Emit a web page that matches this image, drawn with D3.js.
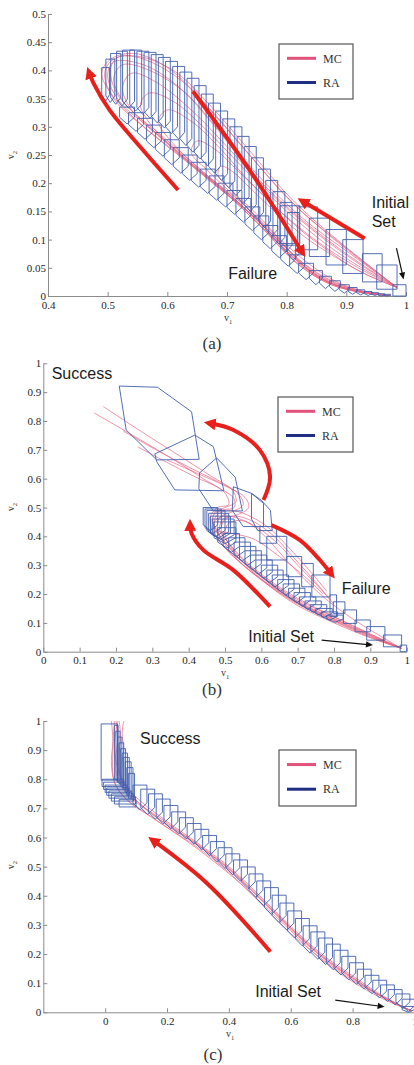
<!DOCTYPE html>
<html>
<head>
<meta charset="utf-8">
<script src="https://cdn.jsdelivr.net/npm/d3@7"></script>
<style>
  body { margin: 0; background: #fff; }
  svg { display: block; }
  .axis text { font-family: "Liberation Serif", "Times New Roman", serif; font-size: 11px; fill: #262626; }
  .axis .domain, .axis line { stroke: #8c8c8c; }
  .note { font-family: "Liberation Sans", Arial, sans-serif; font-size: 16px; fill: #1b1b1b; }
  .serif { font-family: "Liberation Serif", "Times New Roman", serif; fill: #333; }
</style>
</head>
<body>
<svg id="fig" width="414" height="1065"></svg>
<script>
// ---------- panel (a) ----------
const aTicksX = [0.4, 0.5, 0.6, 0.7, 0.8, 0.9, 1];
const aTicksY = [0, 0.05, 0.1, 0.15, 0.2, 0.25, 0.3, 0.35, 0.4, 0.45, 0.5];

// reach sets as [v1 left, v1 right, v2 bottom, v2 top]
const aSetsUpper = [
  [0.490,0.503,0.345,0.405],[0.497,0.512,0.343,0.420],[0.505,0.522,0.340,0.430],[0.515,0.533,0.337,0.434],
  [0.525,0.545,0.333,0.436],[0.537,0.557,0.328,0.436],[0.549,0.569,0.322,0.434],[0.561,0.581,0.315,0.432],
  [0.573,0.593,0.307,0.428],[0.585,0.605,0.298,0.423],[0.597,0.617,0.288,0.416],[0.609,0.629,0.278,0.407],
  [0.621,0.641,0.267,0.397],[0.633,0.653,0.255,0.386],[0.645,0.665,0.243,0.373],[0.657,0.677,0.231,0.358],
  [0.669,0.689,0.218,0.342],[0.681,0.701,0.205,0.328],[0.693,0.713,0.192,0.314],[0.705,0.725,0.178,0.300],
  [0.717,0.737,0.164,0.283],[0.729,0.749,0.150,0.265],[0.741,0.761,0.136,0.245],[0.753,0.773,0.121,0.225],
  [0.765,0.785,0.106,0.205],[0.777,0.797,0.092,0.185],[0.789,0.809,0.078,0.166],[0.801,0.821,0.064,0.148]
];
const aSetsLower = [
  [0.520,0.545,0.305,0.335],[0.535,0.560,0.292,0.325],[0.550,0.575,0.278,0.315],[0.565,0.590,0.263,0.303],
  [0.580,0.605,0.248,0.290],[0.595,0.620,0.233,0.277],[0.610,0.635,0.218,0.263],[0.625,0.650,0.205,0.250],
  [0.640,0.665,0.193,0.237],[0.655,0.680,0.182,0.225],[0.670,0.695,0.170,0.213],[0.685,0.710,0.158,0.200],
  [0.700,0.725,0.145,0.187],[0.715,0.740,0.131,0.173],[0.730,0.755,0.116,0.158],[0.745,0.770,0.100,0.142],
  [0.760,0.785,0.084,0.125],[0.775,0.800,0.068,0.107],[0.790,0.815,0.053,0.090],[0.805,0.830,0.040,0.073],
  [0.820,0.845,0.029,0.058],[0.838,0.860,0.020,0.045],[0.855,0.875,0.013,0.035],[0.872,0.890,0.008,0.027],
  [0.888,0.905,0.005,0.020],[0.903,0.918,0.003,0.015],[0.917,0.931,0.002,0.011],[0.930,0.943,0.001,0.008],
  [0.942,0.954,0.001,0.006],[0.953,0.964,0.000,0.004],[0.963,0.974,0.000,0.003]
];
const aSetsStairs = [
  [0.978,1.000,0.000,0.020],[0.951,0.985,0.012,0.055],[0.927,0.960,0.025,0.075],[0.894,0.928,0.040,0.100],
  [0.866,0.900,0.055,0.118],[0.838,0.872,0.070,0.138],[0.818,0.852,0.082,0.158],[0.789,0.822,0.093,0.160]
];
const aMC = [
  [[0.985,0.015],[0.90,0.075],[0.82,0.14],[0.75,0.21],[0.68,0.30],[0.62,0.37],[0.56,0.41],[0.51,0.415],[0.50,0.39],[0.52,0.345],[0.58,0.29],[0.65,0.225],[0.72,0.165],[0.78,0.105],[0.84,0.045],[0.90,0.014],[0.96,0.002]],
  [[0.985,0.015],[0.90,0.085],[0.82,0.155],[0.75,0.235],[0.68,0.32],[0.62,0.385],[0.56,0.42],[0.52,0.425],[0.505,0.405],[0.515,0.36],[0.57,0.30],[0.64,0.235],[0.71,0.175],[0.77,0.115],[0.83,0.05],[0.89,0.016],[0.95,0.003]],
  [[0.985,0.015],[0.91,0.065],[0.84,0.12],[0.77,0.185],[0.70,0.265],[0.64,0.33],[0.58,0.38],[0.54,0.395],[0.525,0.37],[0.54,0.33],[0.60,0.27],[0.67,0.205],[0.74,0.145],[0.80,0.085],[0.85,0.035],[0.91,0.01],[0.965,0.001]],
  [[0.985,0.015],[0.91,0.06],[0.85,0.105],[0.78,0.17],[0.72,0.235],[0.66,0.30],[0.61,0.345],[0.57,0.36],[0.555,0.34],[0.575,0.30],[0.63,0.245],[0.69,0.19],[0.75,0.135],[0.80,0.08],[0.86,0.03],[0.92,0.008],[0.97,0.001]],
  [[0.985,0.015],[0.92,0.05],[0.86,0.09],[0.80,0.14],[0.74,0.20],[0.69,0.26],[0.64,0.31],[0.60,0.33],[0.585,0.31],[0.61,0.27],[0.66,0.22],[0.72,0.165],[0.77,0.11],[0.82,0.06],[0.87,0.025],[0.93,0.006],[0.975,0.001]],
  [[0.985,0.015],[0.89,0.095],[0.81,0.17],[0.74,0.255],[0.67,0.34],[0.61,0.40],[0.55,0.425],[0.51,0.42],[0.495,0.395],[0.51,0.35],[0.56,0.30],[0.63,0.24],[0.70,0.18],[0.76,0.12],[0.82,0.055],[0.88,0.018],[0.94,0.004]],
  [[0.985,0.015],[0.92,0.045],[0.87,0.08],[0.82,0.12],[0.77,0.17],[0.72,0.22],[0.68,0.26],[0.65,0.275],[0.64,0.255],[0.67,0.22],[0.72,0.17],[0.77,0.12],[0.82,0.065],[0.87,0.03],[0.92,0.01],[0.97,0.001]],
  [[0.985,0.015],[0.90,0.08],[0.83,0.135],[0.76,0.205],[0.69,0.29],[0.63,0.36],[0.57,0.40],[0.525,0.41],[0.51,0.385],[0.53,0.34],[0.59,0.285],[0.66,0.22],[0.73,0.16],[0.79,0.095],[0.85,0.04],[0.91,0.012],[0.965,0.002]],
  [[0.985,0.015],[0.88,0.10],[0.80,0.175],[0.73,0.26],[0.66,0.345],[0.60,0.405],[0.545,0.43],[0.505,0.42],[0.49,0.395],[0.505,0.36],[0.55,0.31],[0.62,0.25],[0.69,0.19],[0.75,0.13],[0.81,0.065],[0.87,0.022],[0.93,0.005]],
  [[0.985,0.015],[0.93,0.04],[0.88,0.07],[0.83,0.105],[0.78,0.15],[0.74,0.19],[0.71,0.22],[0.69,0.23],[0.685,0.215],[0.71,0.185],[0.75,0.145],[0.79,0.10],[0.84,0.055],[0.89,0.022],[0.94,0.006],[0.975,0.001]]
];
const aArrows = [
  [[0.618,0.188],[0.554,0.265],[0.503,0.33],[0.476,0.378],[0.469,0.396]],
  [[0.643,0.363],[0.738,0.223],[0.826,0.078]],
  [[0.931,0.102],[0.827,0.168]]
];
const aPointer = [[0.984,0.085],[0.995,0.034]];
const aLabels = [["Failure",0.702,0.031],["Initial",0.9425,0.156],["Set",0.9425,0.123]];

// ---------- panel (b) ----------
const bTicksX = [0, 0.1, 0.2, 0.3, 0.4, 0.5, 0.6, 0.7, 0.8, 0.9, 1];
const bTicksY = [0, 0.1, 0.2, 0.3, 0.4, 0.5, 0.6, 0.7, 0.8, 0.9, 1];
const bHexes = [
  [[0.209,0.921],[0.314,0.917],[0.408,0.832],[0.429,0.667],[0.312,0.665],[0.228,0.769]],
  [[0.307,0.686],[0.417,0.751],[0.468,0.711],[0.497,0.558],[0.362,0.561],[0.312,0.659]],
  [[0.430,0.620],[0.477,0.672],[0.528,0.605],[0.548,0.488],[0.468,0.488],[0.428,0.565]],
  [[0.523,0.572],[0.573,0.549],[0.606,0.514],[0.606,0.434],[0.550,0.434],[0.520,0.490]],
  [[0.573,0.549],[0.600,0.525],[0.625,0.490],[0.630,0.420],[0.590,0.420],[0.573,0.460]]
];
const bSetsStairs = [
  [0.982,1.000,0.000,0.023],[0.936,0.986,0.017,0.058],[0.890,0.940,0.040,0.087],[0.858,0.900,0.069,0.110],
  [0.826,0.862,0.098,0.145],[0.798,0.830,0.133,0.173],[0.789,0.807,0.122,0.197],[0.739,0.789,0.190,0.266],
  [0.711,0.743,0.225,0.306],[0.670,0.711,0.260,0.330],[0.615,0.670,0.318,0.400],[0.596,0.642,0.376,0.434]
];
const bSetsLower = [
  [0.440,0.480,0.420,0.500],[0.445,0.490,0.410,0.495],[0.450,0.500,0.400,0.490],[0.455,0.510,0.395,0.480],
  [0.460,0.515,0.390,0.470],[0.465,0.525,0.385,0.460],[0.470,0.530,0.375,0.450],[0.480,0.530,0.360,0.430],
  [0.495,0.540,0.345,0.410],[0.510,0.555,0.330,0.395],[0.525,0.570,0.315,0.380],[0.540,0.585,0.300,0.365],
  [0.555,0.600,0.285,0.350],[0.570,0.615,0.270,0.335],[0.585,0.630,0.255,0.318],[0.600,0.645,0.240,0.300],
  [0.615,0.660,0.225,0.283],[0.630,0.675,0.210,0.266],[0.645,0.690,0.196,0.250],[0.660,0.705,0.183,0.235],
  [0.675,0.720,0.170,0.220],[0.690,0.735,0.158,0.205],[0.705,0.750,0.147,0.190],[0.720,0.765,0.137,0.176],
  [0.735,0.780,0.128,0.163],[0.750,0.795,0.119,0.150],[0.765,0.810,0.110,0.138],[0.780,0.825,0.102,0.127]
];
const bMC = [
  [[0.985,0.012],[0.90,0.055],[0.80,0.11],[0.70,0.17],[0.62,0.235],[0.55,0.30],[0.50,0.36],[0.465,0.42],[0.46,0.47],[0.48,0.50],[0.51,0.51],[0.50,0.55],[0.44,0.60],[0.36,0.665],[0.26,0.74],[0.14,0.828]],
  [[0.985,0.012],[0.90,0.06],[0.80,0.12],[0.70,0.18],[0.62,0.245],[0.55,0.31],[0.505,0.37],[0.47,0.43],[0.47,0.48],[0.50,0.50],[0.53,0.52],[0.52,0.56],[0.46,0.61],[0.38,0.675],[0.28,0.755],[0.165,0.85]],
  [[0.985,0.012],[0.90,0.05],[0.80,0.105],[0.70,0.165],[0.62,0.23],[0.555,0.295],[0.51,0.355],[0.48,0.42],[0.485,0.465],[0.52,0.485],[0.55,0.51],[0.535,0.55],[0.48,0.59],[0.40,0.64],[0.31,0.70],[0.22,0.765]],
  [[0.985,0.012],[0.90,0.058],[0.80,0.115],[0.70,0.175],[0.63,0.235],[0.565,0.30],[0.52,0.36],[0.49,0.42],[0.50,0.46],[0.535,0.475],[0.565,0.50],[0.555,0.535],[0.50,0.575],[0.43,0.615],[0.34,0.665]],
  [[0.985,0.012],[0.90,0.052],[0.80,0.108],[0.70,0.168],[0.62,0.232],[0.55,0.30],[0.50,0.36],[0.47,0.42],[0.475,0.47],[0.51,0.49],[0.56,0.475],[0.62,0.43],[0.68,0.355],[0.73,0.285],[0.78,0.21]],
  [[0.985,0.012],[0.90,0.062],[0.80,0.122],[0.70,0.185],[0.62,0.25],[0.56,0.31],[0.515,0.37],[0.485,0.425],[0.495,0.46],[0.53,0.47],[0.58,0.45],[0.635,0.40],[0.69,0.325],[0.74,0.255],[0.79,0.18]],
  [[0.985,0.012],[0.90,0.048],[0.80,0.10],[0.70,0.16],[0.63,0.22],[0.57,0.285],[0.525,0.345],[0.50,0.41],[0.51,0.445],[0.545,0.455],[0.59,0.43],[0.645,0.375],[0.70,0.30],[0.75,0.235],[0.80,0.165]],
  [[0.985,0.012],[0.92,0.06],[0.85,0.115],[0.78,0.18],[0.72,0.25],[0.66,0.33],[0.61,0.40],[0.56,0.45],[0.50,0.47],[0.47,0.45],[0.48,0.42],[0.52,0.41],[0.58,0.39],[0.65,0.33],[0.72,0.26],[0.77,0.20]],
  [[0.985,0.012],[0.90,0.056],[0.80,0.113],[0.70,0.172],[0.62,0.24],[0.555,0.305],[0.51,0.365],[0.475,0.425],[0.465,0.465],[0.49,0.49],[0.525,0.50],[0.525,0.53],[0.48,0.57],[0.42,0.605],[0.35,0.65],[0.26,0.71]]
];
const bArrows = [
  [[0.606,0.526],[0.624,0.607],[0.596,0.699],[0.523,0.769],[0.458,0.792]],
  [[0.628,0.439],[0.706,0.387],[0.761,0.318],[0.792,0.27]],
  [[0.624,0.156],[0.523,0.283],[0.44,0.353],[0.408,0.41],[0.404,0.44]]
];
const bPointer = [[0.766,0.04],[0.9,0.024]];
const bLabels = [["Success",0.023,0.944],["Failure",0.821,0.2],["Initial Set",0.564,0.035]];

// ---------- panel (c) ----------
const cTicksX = [0, 0.2, 0.4, 0.6, 0.8, 1];
const cTicksY = [0, 0.1, 0.2, 0.3, 0.4, 0.5, 0.6, 0.7, 0.8, 0.9, 1];
const cSetsTop = [[-0.013,0.040,0.797,0.990]];
const cSetsSlant = [
  [0.030,0.042,0.800,0.985],[0.035,0.048,0.795,0.965],[0.040,0.054,0.790,0.945],[0.045,0.060,0.785,0.925],
  [0.050,0.066,0.780,0.905],[0.055,0.072,0.772,0.890],[0.060,0.078,0.765,0.875],[0.065,0.084,0.755,0.860],
  [0.070,0.090,0.745,0.840],[0.075,0.095,0.735,0.820]
];
const cSetsFlat = [
  [-0.010,0.060,0.775,0.800],[-0.005,0.065,0.765,0.790],[0.000,0.072,0.755,0.780],[0.005,0.078,0.745,0.770],
  [0.012,0.085,0.735,0.760],[0.020,0.092,0.725,0.750],[0.030,0.098,0.715,0.740],[0.045,0.100,0.705,0.730]
];
const cSetsBand = [
  [0.090,0.135,0.695,0.780],[0.115,0.160,0.679,0.766],[0.140,0.185,0.663,0.750],[0.165,0.210,0.647,0.732],
  [0.190,0.235,0.630,0.710],[0.215,0.260,0.612,0.688],[0.240,0.285,0.595,0.668],[0.265,0.310,0.577,0.648],
  [0.290,0.335,0.558,0.628],[0.315,0.360,0.538,0.607],[0.340,0.385,0.516,0.586],[0.365,0.410,0.494,0.565],
  [0.390,0.435,0.472,0.544],[0.415,0.460,0.450,0.523],[0.440,0.485,0.424,0.499],[0.465,0.510,0.395,0.475],
  [0.490,0.535,0.366,0.451],[0.515,0.560,0.336,0.428],[0.540,0.585,0.308,0.402],[0.565,0.610,0.282,0.375],
  [0.590,0.635,0.255,0.348],[0.615,0.660,0.228,0.322],[0.640,0.685,0.203,0.297],[0.665,0.710,0.182,0.276],
  [0.690,0.735,0.164,0.255],[0.715,0.760,0.146,0.234],[0.740,0.785,0.128,0.213],[0.765,0.810,0.111,0.192],
  [0.790,0.835,0.096,0.170],[0.815,0.860,0.080,0.148],[0.840,0.885,0.064,0.127],[0.865,0.910,0.049,0.110],
  [0.890,0.935,0.037,0.094],[0.915,0.960,0.025,0.078],[0.940,0.985,0.013,0.063],[0.960,1.000,0.003,0.045],
  [0.960,1.000,0.000,0.020]
];
const cMC = [
  [[0.99,0.005],[0.90,0.05],[0.80,0.115],[0.70,0.19],[0.60,0.285],[0.50,0.39],[0.40,0.49],[0.30,0.575],[0.20,0.645],[0.12,0.705],[0.07,0.75],[0.04,0.80],[0.035,0.87],[0.04,0.94],[0.035,1.0]],
  [[0.99,0.005],[0.90,0.055],[0.80,0.125],[0.70,0.20],[0.60,0.295],[0.50,0.40],[0.40,0.50],[0.30,0.58],[0.20,0.655],[0.12,0.72],[0.08,0.76],[0.05,0.81],[0.045,0.88],[0.05,0.95],[0.045,1.0]],
  [[0.99,0.005],[0.90,0.045],[0.80,0.105],[0.70,0.18],[0.60,0.28],[0.50,0.38],[0.40,0.48],[0.30,0.565],[0.20,0.635],[0.11,0.70],[0.06,0.74],[0.03,0.79],[0.02,0.86],[0.025,0.93],[0.02,1.0]],
  [[0.99,0.005],[0.80,0.11],[0.60,0.27],[0.45,0.43],[0.30,0.56],[0.15,0.67],[0.08,0.72],[0.03,0.79],[0.025,0.9],[0.03,1.0]],
  [[0.99,0.005],[0.90,0.05],[0.80,0.12],[0.70,0.195],[0.60,0.29],[0.50,0.395],[0.40,0.495],[0.30,0.575],[0.20,0.65],[0.10,0.725],[0.06,0.77],[0.05,0.83],[0.06,0.90],[0.055,0.96],[0.06,1.0]],
  [[0.99,0.005],[0.90,0.052],[0.80,0.118],[0.70,0.192],[0.60,0.288],[0.50,0.392],[0.40,0.492],[0.30,0.572],[0.20,0.642],[0.13,0.70],[0.09,0.74],[0.06,0.785],[0.04,0.84],[0.03,0.92],[0.04,1.0]]
];
const cArrows = [[[0.534,0.208],[0.329,0.443],[0.155,0.59]]];
const cPointer = [[0.744,0.042],[0.895,0.02]];
const cLabels = [["Success",0.113,0.921],["Initial Set",0.485,0.054]];

// ---------- layout ----------
const panels = [
  { left: 48, right: 406, top: 14, bottom: 296, xDom: [0.4, 1], yDom: [0, 0.5],
    xTicks: aTicksX, yTicks: aTicksY,
    sets: [[aSetsUpper, 0.012], [aSetsLower, 0.012], [aSetsStairs, 0]], hexes: [],
    mc: aMC, arrows: aArrows, pointer: aPointer, labels: aLabels,
    legend: { x: 279, y: 44, w: 74, h: 55 }, caption: ["(a)", 212, 349],
    xLab: [228, 321], yLab: [14, 155] },
  { left: 43.3, right: 406.7, top: 363.3, bottom: 651.7, xDom: [0, 1], yDom: [0, 1],
    xTicks: bTicksX, yTicks: bTicksY,
    sets: [[bSetsStairs, 0], [bSetsLower, 0.02]], hexes: bHexes,
    mc: bMC, arrows: bArrows, pointer: bPointer, labels: bLabels,
    legend: { x: 278, y: 397, w: 75, h: 55 }, caption: ["(b)", 212, 695],
    xLab: [225, 676], yLab: [14, 507] },
  { left: 43.3, right: 414.5, top: 721, bottom: 1012.3, xDom: [-0.2, 1], yDom: [0, 1],
    xTicks: cTicksX, yTicks: cTicksY,
    sets: [[cSetsTop, 0], [cSetsSlant, 0], [cSetsFlat, 0], [cSetsBand, 0.024]], hexes: [],
    mc: cMC, arrows: cArrows, pointer: cPointer, labels: cLabels,
    legend: { x: 279, y: 750, w: 77, h: 56 }, caption: ["(c)", 213, 1060],
    xLab: [230, 1037], yLab: [14, 865] }
];

const svg = d3.select('#fig');
const defs = svg.append('defs');
defs.append('marker').attr('id', 'redhead')
    .attr('markerUnits', 'userSpaceOnUse').attr('viewBox', '0 0 12 12')
    .attr('markerWidth', 12).attr('markerHeight', 12)
    .attr('refX', 6).attr('refY', 6).attr('orient', 'auto')
  .append('path').attr('d', 'M0,0L12,6L0,12Z').attr('fill', '#e8201c');
defs.append('marker').attr('id', 'blackhead')
    .attr('markerUnits', 'userSpaceOnUse').attr('viewBox', '0 0 8 8')
    .attr('markerWidth', 8).attr('markerHeight', 7)
    .attr('refX', 5).attr('refY', 4).attr('orient', 'auto')
  .append('path').attr('d', 'M0,0.5L8,4L0,7.5Z').attr('fill', '#111');

// chevron-shaped reach set (flat top, V-shaped bottom)
function chevron(s, notch) {
  const n = Math.min(notch, (s[3] - s[2]) * 0.45);
  const m = (s[0] + s[1]) / 2;
  return [[s[0], s[3]], [s[1], s[3]], [s[1], s[2] + n], [m, s[2]], [s[0], s[2] + n]];
}

panels.forEach(p => {
  const x = d3.scaleLinear().domain(p.xDom).range([p.left, p.right]);
  const y = d3.scaleLinear().domain(p.yDom).range([p.bottom, p.top]);
  const g = svg.append('g');
  const poly = d3.line().x(d => x(d[0])).y(d => y(d[1]));
  const smooth = d3.line().x(d => x(d[0])).y(d => y(d[1])).curve(d3.curveCatmullRom);

  // axes
  g.append('g').attr('class', 'axis')
      .attr('transform', `translate(0,${p.bottom})`)
      .call(d3.axisBottom(x).tickValues(p.xTicks).tickFormat(d => d)
        .tickSize(-4).tickSizeOuter(0).tickPadding(5));
  g.append('g').attr('class', 'axis')
      .attr('transform', `translate(${p.left},0)`)
      .call(d3.axisLeft(y).tickValues(p.yTicks).tickFormat(d => d)
        .tickSize(-4).tickSizeOuter(0).tickPadding(2));

  // Monte Carlo trajectories
  g.append('g').selectAll('path').data(p.mc).join('path')
      .attr('d', smooth)
      .attr('fill', 'none').attr('stroke', '#e5607f')
      .attr('stroke-opacity', 0.75).attr('stroke-width', 0.9);

  // reachability sets
  const ra = g.append('g').attr('fill', 'none').attr('stroke', '#3f5fae')
      .attr('stroke-width', 0.9).attr('stroke-linejoin', 'round');
  p.sets.forEach(([list, notch]) => {
    ra.append('g').selectAll('path').data(list).join('path')
        .attr('d', s => poly(chevron(s, notch)) + 'Z');
  });
  ra.append('g').selectAll('path').data(p.hexes).join('path')
      .attr('d', h => poly(h) + 'Z');

  // red flow arrows
  g.append('g').selectAll('path').data(p.arrows).join('path')
      .attr('d', smooth)
      .attr('fill', 'none').attr('stroke', '#e8201c').attr('stroke-width', 4)
      .attr('marker-end', 'url(#redhead)');

  // pointer to initial set
  g.append('path').attr('d', poly(p.pointer))
      .attr('fill', 'none').attr('stroke', '#111').attr('stroke-width', 1.2)
      .attr('marker-end', 'url(#blackhead)');

  // annotations
  g.append('g').selectAll('text').data(p.labels).join('text')
      .attr('class', 'note')
      .attr('x', d => x(d[1])).attr('y', d => y(d[2]))
      .text(d => d[0]);

  // legend
  const L = p.legend;
  const lg = g.append('g');
  lg.append('rect').attr('x', L.x).attr('y', L.y).attr('width', L.w).attr('height', L.h)
      .attr('fill', '#fff').attr('stroke', '#555').attr('stroke-width', 1.2);
  [['MC', '#e0527a'], ['RA', '#1d2e84']].forEach(([t, c], i) => {
    const yy = L.y + L.h * (i ? 0.7 : 0.26);
    lg.append('line').attr('x1', L.x + 8).attr('x2', L.x + 37).attr('y1', yy).attr('y2', yy)
        .attr('stroke', c).attr('stroke-width', 3);
    lg.append('text').attr('class', 'serif').attr('x', L.x + 44).attr('y', yy)
        .attr('dy', '0.35em').attr('font-size', 12).text(t);
  });

  // axis labels
  const xl = g.append('text').attr('class', 'serif').attr('font-size', 10)
      .attr('text-anchor', 'middle').attr('x', p.xLab[0]).attr('y', p.xLab[1]);
  xl.append('tspan').text('v');
  xl.append('tspan').attr('font-size', 6.5).attr('dy', 2.5).text('1');
  const yl = g.append('text').attr('class', 'serif').attr('font-size', 10)
      .attr('text-anchor', 'middle')
      .attr('transform', `translate(${p.yLab[0]},${p.yLab[1]}) rotate(-90)`);
  yl.append('tspan').text('v');
  yl.append('tspan').attr('font-size', 6.5).attr('dy', 2.5).text('2');

  // caption
  g.append('text').attr('class', 'serif').attr('font-size', 17).attr('fill', '#222')
      .attr('text-anchor', 'middle').attr('x', p.caption[1]).attr('y', p.caption[2])
      .text(p.caption[0]);
});
</script>
</body>
</html>
